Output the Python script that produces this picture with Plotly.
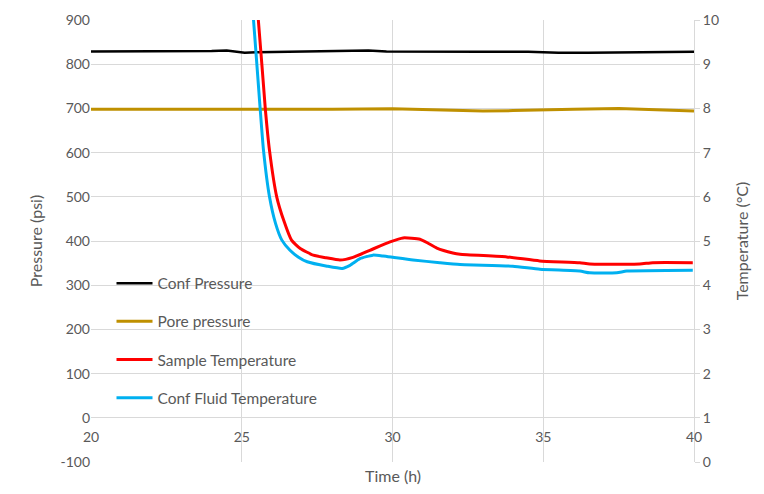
import plotly.graph_objects as go

# ---- data ----
conf_p_time = [20, 22, 24, 24.5, 24.8, 25.1, 25.5, 27, 28.5, 29.2, 29.8, 31, 33, 34.5, 35.5, 36.5, 37.5, 38.5, 40]
conf_p_psi = [829, 829, 830, 831, 829, 826, 827, 828, 829, 831, 829, 828, 828, 828, 826, 826, 827, 828, 828]

pore_p_time = [20, 22, 24, 25, 26, 28, 30, 31, 32, 33, 34, 35, 36, 37.5, 38.5, 39.5, 40]
pore_p_psi = [698, 698, 698.5, 697, 698, 698, 699, 697, 695, 694, 695, 697, 698, 700, 698, 695, 694]

sample_t_time = [25.45, 25.55, 25.78, 25.92, 26.16, 26.4, 26.65, 26.94, 27.37, 27.8, 28.26, 28.69,
                 29.25, 29.92, 30.35, 30.91, 31.18, 31.47, 32.0, 32.24, 33.79, 34.88, 36.21, 36.54, 38.2,
                 38.63, 39.96]
sample_t_degc = [10.5, 10.0, 8.0, 7.05, 6.0, 5.45, 5.02, 4.83, 4.68, 4.62, 4.57, 4.63,
                 4.79, 4.98, 5.07, 5.04, 4.95, 4.84, 4.73, 4.70, 4.64, 4.55, 4.51, 4.48, 4.48,
                 4.51, 4.51]

fluid_t_time = [25.33, 25.39, 25.47, 25.61, 25.72, 25.92, 26.12, 26.33, 26.6, 26.87, 27.17, 27.83, 28.33, 28.59,
                28.92, 29.35, 29.69, 30.02, 30.68, 31.57, 32.24, 33.99, 34.89, 36.21, 36.54, 37.44,
                37.77, 39.96]
fluid_t_degc = [10.5, 10.0, 9.28, 8.0, 7.06, 6.0, 5.4, 5.02, 4.79, 4.64, 4.53, 4.43, 4.38, 4.45,
                4.60, 4.68, 4.66, 4.63, 4.57, 4.51, 4.47, 4.43, 4.36, 4.32, 4.28, 4.28,
                4.32, 4.34]

x_ticks = [20, 25, 30, 35, 40]
left_ticks = list(range(-100, 1000, 100))
left_labels = [str(v) for v in left_ticks]
right_ticks = list(range(0, 11, 1))

FONT = "Lato"
GRAY = "#595959"
GRID = "#D9D9D9"

fig = go.Figure()
fig.add_trace(go.Scatter(x=conf_p_time, y=conf_p_psi, mode="lines", name="Conf Pressure",
                         line=dict(color="#000000", width=2.5), legendgroup="a", yaxis="y"))
fig.add_trace(go.Scatter(x=pore_p_time, y=pore_p_psi, mode="lines", name="Pore pressure",
                         line=dict(color="#BF9000", width=3), legendgroup="b", yaxis="y"))
fig.add_trace(go.Scatter(x=sample_t_time, y=sample_t_degc, mode="lines", name="Sample Temperature",
                         line=dict(color="#FF0000", width=3, shape="spline", smoothing=0.5),
                         legendgroup="c", yaxis="y2"))
fig.add_trace(go.Scatter(x=fluid_t_time, y=fluid_t_degc, mode="lines", name="Conf Fluid Temperature",
                         line=dict(color="#00B0F0", width=3, shape="spline", smoothing=0.5),
                         legendgroup="d", yaxis="y2"))

fig.update_layout(
    width=764, height=494,
    margin=dict(l=91, r=70, t=20, b=32, pad=0),
    paper_bgcolor="white", plot_bgcolor="white",
    font=dict(family=FONT, size=14, color=GRAY),
    showlegend=True,
    legend=dict(x=0.034, y=0.442, xanchor="left", yanchor="top",
                traceorder="grouped", tracegroupgap=15, itemwidth=36,
                bgcolor="rgba(0,0,0,0)", font=dict(family=FONT, size=15.5, color=GRAY)),
    xaxis=dict(range=[20, 40], tickvals=x_ticks, ticktext=[str(v) for v in x_ticks],
               showgrid=True, gridcolor=GRID, gridwidth=1, zeroline=False,
               showline=False, ticks="", anchor="free", position=0.1, ticklabelstandoff=9,
               tickfont=dict(family=FONT, size=14, color=GRAY)),
    yaxis=dict(range=[-100, 900], tickvals=left_ticks, ticktext=left_labels, showgrid=True, gridcolor=GRID,
               gridwidth=1, zeroline=False, showline=False, ticks="",
               tickfont=dict(family=FONT, size=14, color=GRAY),
               title=dict(text="Pressure (psi)", font=dict(family=FONT, size=16, color=GRAY), standoff=13)),
    yaxis2=dict(range=[0, 10], tickvals=right_ticks, overlaying="y", side="right",
                showgrid=False, zeroline=False, showline=True, linecolor=GRID, linewidth=1,
                ticks="outside", ticklen=5, tickcolor=GRID,
                tickfont=dict(family=FONT, size=14, color=GRAY),
                title=dict(text="Temperature (°C)", font=dict(family=FONT, size=16, color=GRAY), standoff=18)),
    annotations=[dict(text="Time (h)", x=0.5, y=-0.005, xref="paper", yref="paper",
                      xanchor="center", yanchor="top", showarrow=False,
                      font=dict(family=FONT, size=16, color=GRAY))],
)

fig.write_html("out.html")
